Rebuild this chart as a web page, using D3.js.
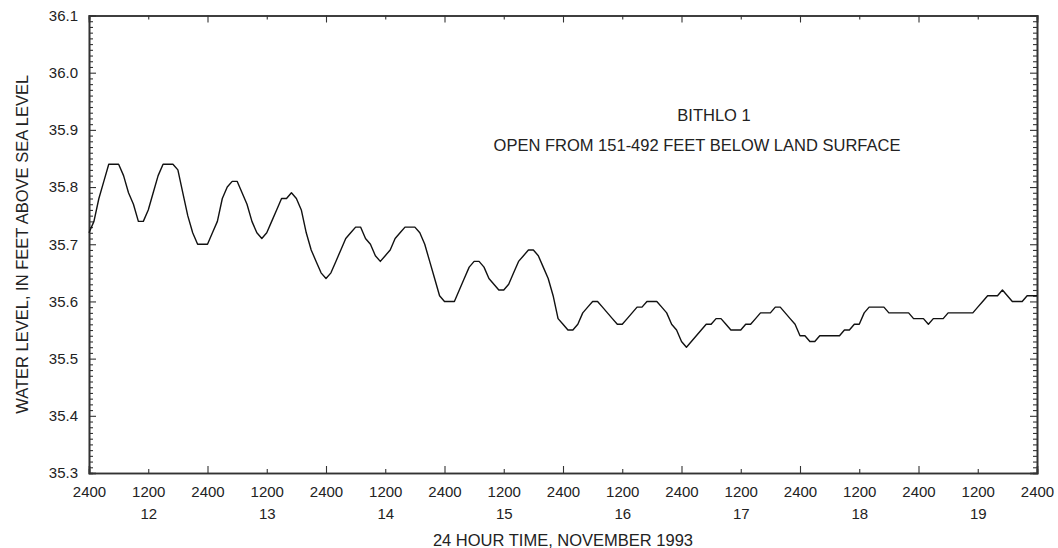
<!DOCTYPE html>
<html><head><meta charset="utf-8">
<script src="https://cdn.jsdelivr.net/npm/d3@7"></script>
<style>
body{margin:0;background:#fff}
text{font-family:"Liberation Sans",Arial,sans-serif;fill:#222}
</style>
</head><body>
<svg id="c" width="1058" height="548"></svg>
<script>
// Hourly water level, feet above sea level, starting 2400 Nov 11 (hour 0) to 2400 Nov 19 (hour 192)
const levels = [
35.72,35.74,35.78,35.81,35.84,35.84,35.84,35.82,35.79,35.77,35.74,35.74,
35.76,35.79,35.82,35.84,35.84,35.84,35.83,35.79,35.75,35.72,35.70,35.70,
35.70,35.72,35.74,35.78,35.80,35.81,35.81,35.79,35.77,35.74,35.72,35.71,
35.72,35.74,35.76,35.78,35.78,35.79,35.78,35.76,35.72,35.69,35.67,35.65,
35.64,35.65,35.67,35.69,35.71,35.72,35.73,35.73,35.71,35.70,35.68,35.67,
35.68,35.69,35.71,35.72,35.73,35.73,35.73,35.72,35.70,35.67,35.64,35.61,
35.60,35.60,35.60,35.62,35.64,35.66,35.67,35.67,35.66,35.64,35.63,35.62,
35.62,35.63,35.65,35.67,35.68,35.69,35.69,35.68,35.66,35.64,35.61,35.57,
35.56,35.55,35.55,35.56,35.58,35.59,35.60,35.60,35.59,35.58,35.57,35.56,
35.56,35.57,35.58,35.59,35.59,35.60,35.60,35.60,35.59,35.58,35.56,35.55,
35.53,35.52,35.53,35.54,35.55,35.56,35.56,35.57,35.57,35.56,35.55,35.55,
35.55,35.56,35.56,35.57,35.58,35.58,35.58,35.59,35.59,35.58,35.57,35.56,
35.54,35.54,35.53,35.53,35.54,35.54,35.54,35.54,35.54,35.55,35.55,35.56,
35.56,35.58,35.59,35.59,35.59,35.59,35.58,35.58,35.58,35.58,35.58,35.57,
35.57,35.57,35.56,35.57,35.57,35.57,35.58,35.58,35.58,35.58,35.58,35.58,
35.59,35.60,35.61,35.61,35.61,35.62,35.61,35.60,35.60,35.60,35.61,35.61,
35.61
];
const yMajorTicks = [35.3,35.4,35.5,35.6,35.7,35.8,35.9,36.0,36.1];
const xMajorHours = [0,24,48,72,96,120,144,168,192];
const xMajorLabel = "2400";
const xMinorHours = [12,36,60,84,108,132,156,180];
const xMinorLabel = "1200";
const dayLabels = ["12","13","14","15","16","17","18","19"];
const titleLines = ["BITHLO 1","OPEN FROM 151-492 FEET BELOW LAND SURFACE"];
const xTitle = "24 HOUR TIME, NOVEMBER 1993";
const yTitle = "WATER LEVEL, IN FEET ABOVE SEA LEVEL";

const L=89, R=1037, T=15.5, B=473;
const svg = d3.select("#c");
const x = d3.scaleLinear().domain([0,192]).range([L,R]);
const y = d3.scaleLinear().domain([35.3,36.1]).range([B,T]);
const yMinor = d3.range(0,81).filter(i=>i%10!==0).map(i=>35.3+i*0.01);

const axisColor="#333";
function style(g){
  g.selectAll("path.domain").attr("stroke",axisColor).attr("stroke-width",1.6);
  g.selectAll(".tick line").attr("stroke",axisColor).attr("stroke-width",1.1);
  g.selectAll(".tick text").style("font-size","15px").attr("fill","#222")
    .style("font-family",'"Liberation Sans",Arial,sans-serif');
}

// minor y ticks left/right
svg.append("g").attr("transform",`translate(${L},0)`)
  .call(d3.axisLeft(y).tickValues(yMinor).tickSize(-4).tickFormat("")).call(style);
svg.append("g").attr("transform",`translate(${R},0)`)
  .call(d3.axisRight(y).tickValues(yMinor).tickSize(-4).tickFormat("")).call(style);
// major y
svg.append("g").attr("transform",`translate(${L},0)`)
  .call(d3.axisLeft(y).tickValues(yMajorTicks).tickSize(-7).tickPadding(11).tickFormat(d3.format(".1f"))).call(style);
svg.append("g").attr("transform",`translate(${R},0)`)
  .call(d3.axisRight(y).tickValues(yMajorTicks).tickSize(-7).tickFormat("")).call(style);

// x axes
svg.append("g").attr("transform",`translate(0,${B})`)
  .call(d3.axisBottom(x).tickValues(xMajorHours).tickSize(-7).tickPadding(13).tickFormat(()=>xMajorLabel)).call(style);
const gMin = svg.append("g").attr("transform",`translate(0,${B})`)
  .call(d3.axisBottom(x).tickValues(xMinorHours).tickSize(-4).tickPadding(13).tickFormat(()=>xMinorLabel)).call(style);
gMin.selectAll(".tick").append("text")
  .attr("y",46).attr("text-anchor","middle")
  .style("font-size","15px").attr("fill","#222")
  .text((d,i)=>dayLabels[i]);
svg.append("g").attr("transform",`translate(0,${T})`)
  .call(d3.axisTop(x).tickValues(xMajorHours).tickSize(-7).tickFormat("")).call(style);
svg.append("g").attr("transform",`translate(0,${T})`)
  .call(d3.axisTop(x).tickValues(xMinorHours).tickSize(-4).tickFormat("")).call(style);

// data line
const line = d3.line().x((d,i)=>x(i)).y(d=>y(d));
svg.append("path").datum(levels).attr("d",line)
  .attr("fill","none").attr("stroke","#111").attr("stroke-width",1.4).attr("stroke-linejoin","round");

// annotation
svg.append("text").attr("x",714).attr("y",121).attr("text-anchor","middle").style("font-size","16.5px").text(titleLines[0]);
svg.append("text").attr("x",697).attr("y",151).attr("text-anchor","middle").style("font-size","16.5px").text(titleLines[1]);

// axis titles
svg.append("text").attr("x",(L+R)/2).attr("y",546).attr("text-anchor","middle").style("font-size","16.5px").text(xTitle);
svg.append("text").attr("transform",`translate(28,${(T+B)/2}) rotate(-90)`).attr("text-anchor","middle").style("font-size","16.5px").text(yTitle);
</script>
</body></html>
